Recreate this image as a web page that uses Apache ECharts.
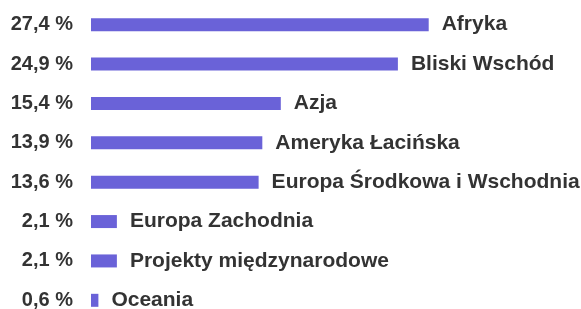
<!DOCTYPE html>
<html lang="pl">
<head>
    <meta charset="UTF-8">
    <title>Regiony</title>
    <style>
        html,body{
            width: 100%;
            height: 100%;
            margin: 0;
            padding: 0;
            background: #fff;
        }
    </style>
</head>
<body>
<div id="main" style="width: 581px;height:309px;"></div>

<script src="https://cdn.jsdelivr.net/npm/echarts@6/dist/echarts.min.js"></script>
<script>
    var regions = ['Afryka', 'Bliski Wschód', 'Azja', 'Ameryka Łacińska',
        'Europa Środkowa i Wschodnia', 'Europa Zachodnia', 'Projekty międzynarodowe', 'Oceania'];
    var shares = [27.4, 24.9, 15.4, 13.9, 13.6, 2.1, 2.1, 0.6];

    // 27.4 -> "27,4 %"
    function pct(v) {
        return v.toFixed(1).replace('.', ',') + ' %';
    }

    var myChart = echarts.init(document.getElementById('main'));
    var textColor = '#333';

    myChart.setOption({
        animation: false,
        grid: {left: 91, top: 5, width: 493, height: 315, outerBoundsMode: 'none', containLabel: false},
        xAxis: {
            type: 'value', min: 0, max: 40, show: false
        },
        yAxis: {
            type: 'category',
            data: regions,
            inverse: true,
            axisLine: {show: false},
            axisTick: {show: false},
            axisLabel: {
                margin: 18,
                fontFamily: 'Liberation Sans',
                fontWeight: 'bold',
                fontSize: 20,
                color: textColor,
                formatter: function (val, idx) {
                    return pct(shares[idx]);
                }
            }
        },
        series: [{
            type: 'bar',
            data: shares,
            barWidth: 13,
            itemStyle: {color: '#6a62d8'},
            label: {
                show: true,
                position: 'right',
                distance: 13,
                fontFamily: 'Liberation Sans',
                fontWeight: 'bold',
                fontSize: 21,
                color: textColor,
                formatter: '{b}'
            }
        }]
    });
</script>
</body>
</html>
